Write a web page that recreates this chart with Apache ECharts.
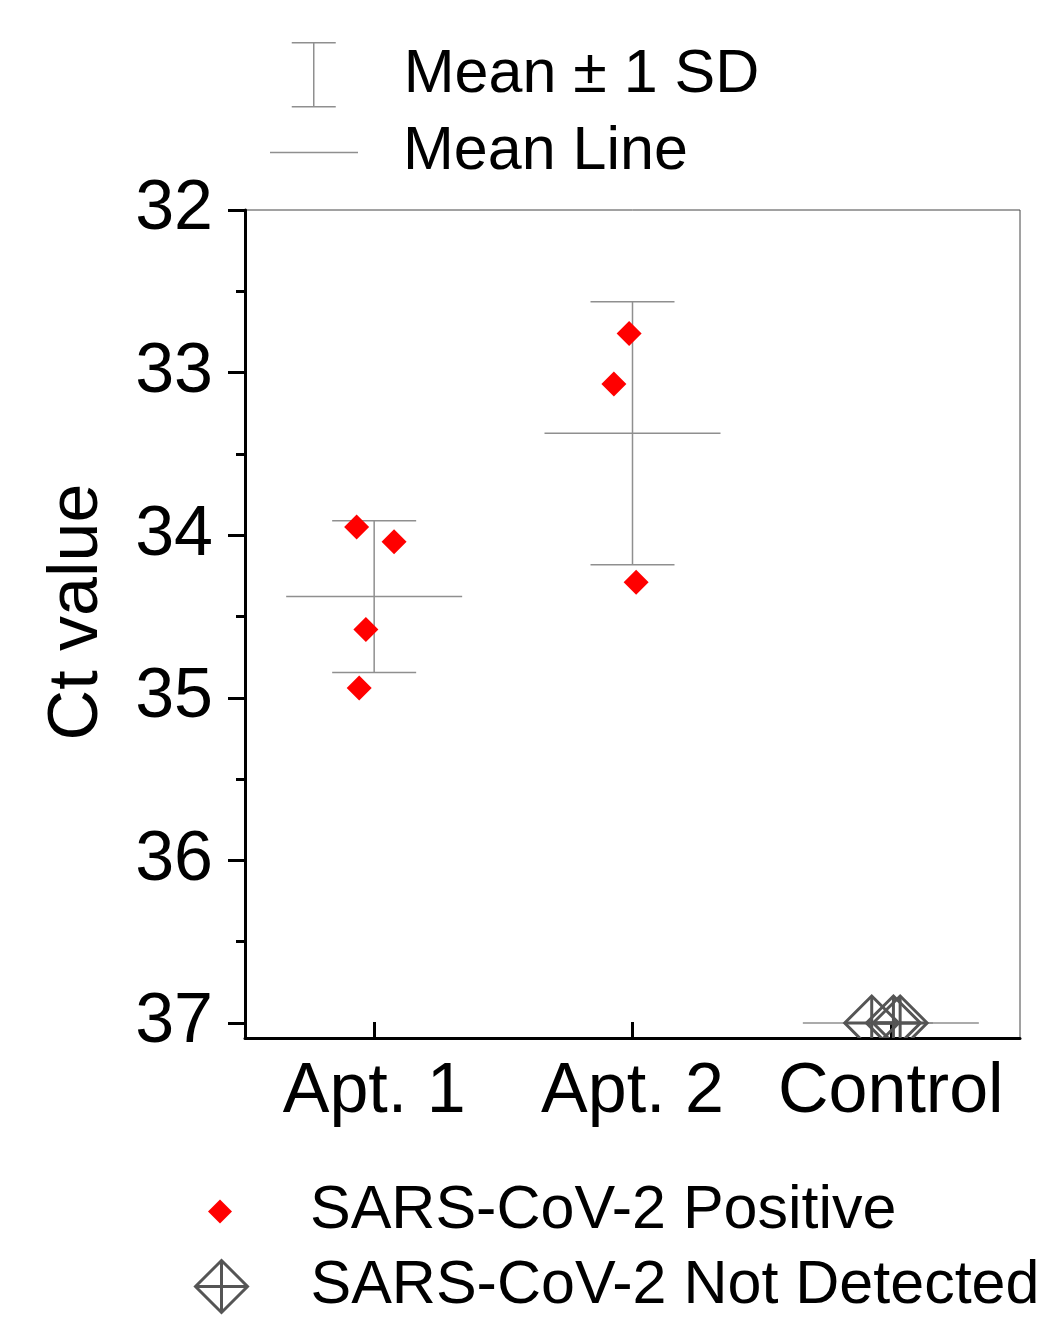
<!DOCTYPE html>
<html>
<head>
<meta charset="utf-8">
<script src="https://cdn.jsdelivr.net/npm/echarts@6/dist/echarts.min.js"></script>
<style>
  html, body { margin: 0; padding: 0; background: #ffffff; }
  #chart { width: 1041px; height: 1321px; }
</style>
</head>
<body>
<div id="chart"></div>
<script>
// ---------------- data ----------------
const categories = ['Apt. 1', 'Apt. 2', 'Control'];
const groupPos = [1, 2, 3];
// jittered x positions and Ct values of the individual samples
const apt1X = [0.932, 1.077, 0.968, 0.942];
const apt1Ct = [33.95, 34.04, 34.58, 34.94];
const apt2X = [1.987, 1.928, 2.014];
const apt2Ct = [32.76, 33.07, 34.29];
const controlX = [2.926, 3.010, 3.036];
const controlCt = [37.0, 37.0, 37.0];
const yTicks = [32, 33, 34, 35, 36, 37];
const yMinorTicks = [32.5, 33.5, 34.5, 35.5, 36.5];
const legendNames = ['Mean \u00b1 1 SD', 'Mean Line', 'SARS-CoV-2 Positive', 'SARS-CoV-2 Not Detected'];

// ---------------- derived statistics ----------------
function mean(a) { return a.reduce((s, v) => s + v, 0) / a.length; }
function sd(a) {
  const m = mean(a);
  return Math.sqrt(a.reduce((s, v) => s + (v - m) * (v - m), 0) / (a.length - 1));
}
const groupsCt = [apt1Ct, apt2Ct, controlCt];
const statsData = groupPos.map((p, i) => [p, mean(groupsCt[i]), sd(groupsCt[i])]);
const positiveData = apt1X.map((x, i) => [x, apt1Ct[i]]).concat(apt2X.map((x, i) => [x, apt2Ct[i]]));
const controlData = controlX.map((x, i) => [x, controlCt[i]]);

// ---------------- styles ----------------
const FONT = "'Liberation Sans', Arial, sans-serif";
const GREY = '#8f8f8f';
const CTRL = '#555555';
const CAP_HALF = 42;
const MEAN_HALF = 88;
const CTRL_HALF = 27;
const LEGEND_FS = 61;

const chart = echarts.init(document.getElementById('chart'), null, { renderer: 'canvas' });

const option = {
  backgroundColor: '#ffffff',
  animation: false,
  grid: {
    left: 245, right: 21, top: 210, bottom: 283,
    show: true, borderColor: '#444', borderWidth: 1, backgroundColor: 'transparent'
  },
  xAxis: {
    type: 'value', min: 0.5, max: 3.5, interval: 0.5,
    axisLine: { show: true, lineStyle: { color: '#000', width: 3 } },
    axisTick: { show: true, inside: true, length: 16, lineStyle: { color: '#000', width: 3 }, customValues: groupPos },
    axisLabel: {
      customValues: groupPos,
      formatter: v => categories[Math.round(v) - 1] || '',
      fontSize: 70, fontFamily: FONT, color: '#000', margin: 20
    },
    splitLine: { show: false }
  },
  yAxis: [
    {
      type: 'value', inverse: true, min: 32, max: 37.092, interval: 1,
      name: 'Ct value', nameLocation: 'middle', nameGap: 132,
      nameTextStyle: { fontSize: 70, fontFamily: FONT, color: '#000', padding: [0, 0, 0, 24] },
      axisLine: { show: true, lineStyle: { color: '#000', width: 3 } },
      axisTick: { show: true, length: 17, lineStyle: { color: '#000', width: 3 }, customValues: yTicks },
      axisLabel: { customValues: yTicks, fontSize: 70, fontFamily: FONT, color: '#000', margin: 32 },
      splitLine: { show: false }
    },
    {
      type: 'value', inverse: true, min: 32, max: 37.092, interval: 1, position: 'left',
      axisLine: { show: false },
      axisTick: { show: true, length: 9, lineStyle: { color: '#000', width: 3 }, customValues: yMinorTicks },
      axisLabel: { show: false },
      splitLine: { show: false }
    }
  ],
  legend: [
    {
      data: [{ name: legendNames[0], icon: 'path://M0,0 L44,0 M22,0 L22,64 M0,64 L44,64' }],
      left: 291, top: 42, padding: 0, itemWidth: 44, itemHeight: 64,
      itemStyle: { color: 'transparent', borderColor: GREY, borderWidth: 1.5 },
      textStyle: { fontSize: LEGEND_FS, fontFamily: FONT, color: '#000', padding: [0, 0, 0, 63] }
    },
    {
      data: [{ name: legendNames[1], icon: 'rect' }],
      left: 270, top: 122, padding: 0, itemWidth: 88, itemHeight: 1.5,
      itemStyle: { color: GREY, borderWidth: 0 },
      textStyle: { fontSize: LEGEND_FS, fontFamily: FONT, color: '#000', padding: [0, 0, 0, 40] }
    },
    {
      data: [{ name: legendNames[2], icon: 'diamond' }],
      left: 208, top: 1181, padding: 0, itemWidth: 24, itemHeight: 24,
      itemStyle: { color: '#ff0000', borderWidth: 0 },
      textStyle: { fontSize: LEGEND_FS, fontFamily: FONT, color: '#000', padding: [0, 0, 0, 73] }
    },
    {
      data: [{ name: legendNames[3], icon: 'path://M0,-1 L1,0 L0,1 L-1,0 Z M0,-1 L0,1 M-1,0 L1,0' }],
      left: 194, top: 1256, padding: 0, itemWidth: 52, itemHeight: 52,
      itemStyle: { color: 'transparent', borderColor: CTRL, borderWidth: 3 },
      textStyle: { fontSize: LEGEND_FS, fontFamily: FONT, color: '#000', padding: [0, 0, 0, 58] }
    }
  ],
  series: [
    {
      name: legendNames[0], type: 'custom', data: statsData, z: 2,
      itemStyle: { color: GREY },
      renderItem: function (params, api) {
        const x = api.value(0), m = api.value(1), s = api.value(2);
        const a = api.coord([x, m - s]);
        const b = api.coord([x, m + s]);
        const st = { stroke: GREY, lineWidth: 1.5 };
        return {
          type: 'group',
          children: [
            { type: 'line', shape: { x1: a[0], y1: a[1], x2: b[0], y2: b[1] }, style: st },
            { type: 'line', shape: { x1: a[0] - CAP_HALF, y1: a[1], x2: a[0] + CAP_HALF, y2: a[1] }, style: st },
            { type: 'line', shape: { x1: b[0] - CAP_HALF, y1: b[1], x2: b[0] + CAP_HALF, y2: b[1] }, style: st }
          ]
        };
      }
    },
    {
      name: legendNames[1], type: 'custom', data: statsData, z: 2,
      itemStyle: { color: GREY },
      renderItem: function (params, api) {
        const c = api.coord([api.value(0), api.value(1)]);
        return {
          type: 'line',
          shape: { x1: c[0] - MEAN_HALF, y1: c[1], x2: c[0] + MEAN_HALF, y2: c[1] },
          style: { stroke: GREY, lineWidth: 1.5 }
        };
      }
    },
    {
      name: legendNames[2], type: 'scatter', data: positiveData, z: 3,
      symbol: 'diamond', symbolSize: 25,
      itemStyle: { color: '#ff0000', opacity: 1 }
    },
    {
      name: legendNames[3], type: 'custom', data: controlData, z: 3, clip: true,
      itemStyle: { color: CTRL },
      renderItem: function (params, api) {
        const c = api.coord([api.value(0), api.value(1)]);
        const r = CTRL_HALF;
        const st = { stroke: CTRL, lineWidth: 3, fill: null };
        return {
          type: 'group',
          children: [
            { type: 'polygon', shape: { points: [[c[0], c[1] - r], [c[0] + r, c[1]], [c[0], c[1] + r], [c[0] - r, c[1]]] }, style: st },
            { type: 'line', shape: { x1: c[0], y1: c[1] - r, x2: c[0], y2: c[1] + r }, style: st },
            { type: 'line', shape: { x1: c[0] - r, y1: c[1], x2: c[0] + r, y2: c[1] }, style: st }
          ]
        };
      }
    }
  ]
};

chart.setOption(option);
</script>
</body>
</html>
